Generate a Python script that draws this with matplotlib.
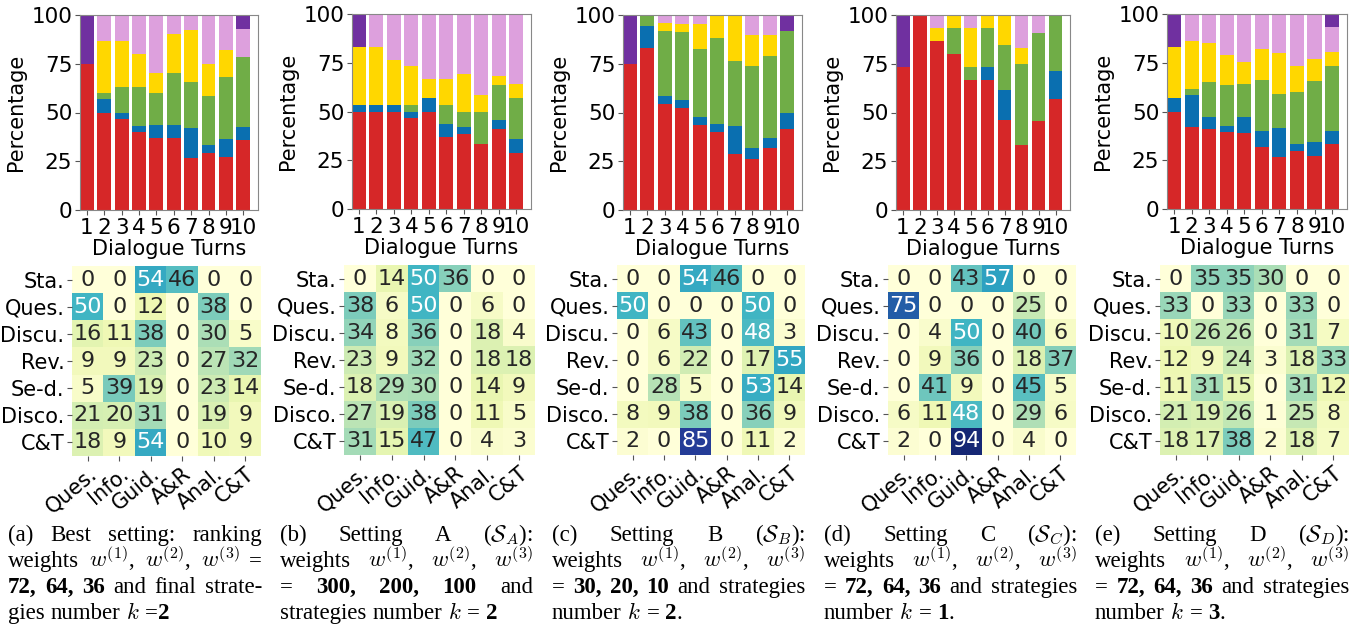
import matplotlib
matplotlib.use("Agg")
import matplotlib.pyplot as plt
import numpy as np

plt.rcParams['mathtext.fontset'] = 'cm'

turns = [1, 2, 3, 4, 5, 6, 7, 8, 9, 10]
seg_colors = ['#d62728', '#0a6fb0', '#70ad47', '#ffd700', '#dda0dd', '#7030a0']

# stacked shares per turn, bottom to top: red, blue, green, yellow, pink, purple
bars_a = [
    [75, 50, 46.7, 40, 36.7, 36.7, 26.9, 29.2, 27.3, 35.7],
    [0, 6.7, 3.3, 3.3, 6.7, 6.7, 15.4, 4.2, 9.1, 7.1],
    [0, 3.3, 13.3, 20, 16.7, 26.7, 23.1, 25, 31.8, 35.7],
    [0, 26.7, 23.3, 16.7, 10, 20, 26.9, 16.7, 13.6, 0],
    [0, 13.3, 13.3, 20, 30, 10, 7.7, 25, 18.2, 14.3],
    [25, 0, 0, 0, 0, 0, 0, 0, 0, 7.1],
]
bars_b = [
    [50, 50, 50, 46.7, 50, 36.7, 38.5, 33.3, 40.9, 28.6],
    [3.3, 3.3, 3.3, 3.3, 6.7, 6.7, 3.8, 0, 4.5, 7.1],
    [0, 0, 0, 3.3, 0, 10, 7.7, 16.7, 18.2, 21.4],
    [30, 30, 23.3, 20, 10, 13.3, 19.2, 8.3, 4.5, 7.1],
    [0, 16.7, 23.3, 26.7, 33.3, 33.3, 30.8, 41.7, 31.8, 35.7],
    [16.7, 0, 0, 0, 0, 0, 0, 0, 0, 0],
]
bars_c = [
    [75, 83.3, 54.2, 52.2, 43.5, 40, 28.6, 26.3, 31.6, 41.7],
    [0, 11.1, 4.2, 4.3, 4.3, 4, 14.3, 5.3, 5.3, 8.3],
    [0, 5.6, 33.3, 34.8, 34.8, 44, 33.3, 42.1, 42.1, 41.7],
    [0, 0, 4.2, 4.3, 13, 12, 23.8, 15.8, 10.5, 0],
    [0, 0, 4.2, 4.3, 4.3, 0, 0, 10.5, 10.5, 0],
    [25, 0, 0, 0, 0, 0, 0, 0, 0, 8.3],
]
bars_d = [
    [73.3, 100, 86.7, 80, 66.7, 66.7, 46.2, 33.3, 45.5, 57.1],
    [0, 0, 0, 0, 0, 6.7, 15.4, 0, 0, 14.3],
    [0, 0, 0, 13.3, 6.7, 20, 23.1, 41.7, 45.5, 28.6],
    [0, 0, 6.7, 6.7, 20, 6.7, 15.4, 8.3, 0, 0],
    [0, 0, 6.7, 0, 6.7, 0, 0, 16.7, 9.1, 0],
    [26.7, 0, 0, 0, 0, 0, 0, 0, 0, 0],
]
bars_e = [
    [50, 42, 41.1, 39.4, 38.9, 31.7, 26.6, 30, 27, 33.4],
    [6.7, 16.5, 6.3, 3.3, 8.5, 8.1, 14.9, 3.4, 7.6, 6.7],
    [0, 2.9, 17.6, 21, 16.6, 26.1, 17.4, 26.8, 31.1, 33.4],
    [26.6, 24.9, 20.3, 15.3, 11.3, 16, 21, 13.3, 11.4, 6.9],
    [0, 13.7, 14.7, 21, 24.7, 18.1, 20.1, 26.5, 22.9, 12.8],
    [16.7, 0, 0, 0, 0, 0, 0, 0, 0, 6.8],
]

row_labels = ['Sta.', 'Ques.', 'Discu.', 'Rev.', 'Se-d.', 'Disco.', 'C&T']
col_labels = ['Ques.', 'Info.', 'Guid.', 'A&R', 'Anal.', 'C&T']

heat_a = [[0, 0, 54, 46, 0, 0], [50, 0, 12, 0, 38, 0], [16, 11, 38, 0, 30, 5],
          [9, 9, 23, 0, 27, 32], [5, 39, 19, 0, 23, 14], [21, 20, 31, 0, 19, 9],
          [18, 9, 54, 0, 10, 9]]
heat_b = [[0, 14, 50, 36, 0, 0], [38, 6, 50, 0, 6, 0], [34, 8, 36, 0, 18, 4],
          [23, 9, 32, 0, 18, 18], [18, 29, 30, 0, 14, 9], [27, 19, 38, 0, 11, 5],
          [31, 15, 47, 0, 4, 3]]
heat_c = [[0, 0, 54, 46, 0, 0], [50, 0, 0, 0, 50, 0], [0, 6, 43, 0, 48, 3],
          [0, 6, 22, 0, 17, 55], [0, 28, 5, 0, 53, 14], [8, 9, 38, 0, 36, 9],
          [2, 0, 85, 0, 11, 2]]
heat_d = [[0, 0, 43, 57, 0, 0], [75, 0, 0, 0, 25, 0], [0, 4, 50, 0, 40, 6],
          [0, 9, 36, 0, 18, 37], [0, 41, 9, 0, 45, 5], [6, 11, 48, 0, 29, 6],
          [2, 0, 94, 0, 4, 0]]
heat_e = [[0, 35, 35, 30, 0, 0], [33, 0, 33, 0, 33, 0], [10, 26, 26, 0, 31, 7],
          [12, 9, 24, 3, 18, 33], [11, 31, 15, 0, 31, 12], [21, 19, 26, 1, 25, 8],
          [18, 17, 38, 2, 18, 7]]

# caption lines: (word, style) with style 0 normal, 1 bold, 2 bold glued to previous word
captions = [
    [[('(a)', 0), ('Best', 0), ('setting:', 0), ('ranking', 0)],
     [('weights', 0), ('$w^{(1)}$,', 0), ('$w^{(2)}$,', 0), ('$w^{(3)}$', 0), ('=', 0)],
     [('72,', 1), ('64,', 1), ('36', 1), ('and', 0), ('final', 0), ('strate-', 0)],
     [('gies', 0), ('number', 0), ('$k$', 0), ('=', 0), ('2', 2)]],
    [[('(b)', 0), ('Setting', 0), ('A', 0), (r'($\mathcal{S}_A$):', 0)],
     [('weights', 0), ('$w^{(1)}$,', 0), ('$w^{(2)}$,', 0), ('$w^{(3)}$', 0)],
     [('=', 0), ('300,', 1), ('200,', 1), ('100', 1), ('and', 0)],
     [('strategies', 0), ('number', 0), ('$k$', 0), ('=', 0), ('2', 1)]],
    [[('(c)', 0), ('Setting', 0), ('B', 0), (r'($\mathcal{S}_B$):', 0)],
     [('weights', 0), ('$w^{(1)}$,', 0), ('$w^{(2)}$,', 0), ('$w^{(3)}$', 0)],
     [('=', 0), ('30,', 1), ('20,', 1), ('10', 1), ('and', 0), ('strategies', 0)],
     [('number', 0), ('$k$', 0), ('=', 0), ('2', 1), ('.', 3)]],
    [[('(d)', 0), ('Setting', 0), ('C', 0), (r'($\mathcal{S}_C$):', 0)],
     [('weights', 0), ('$w^{(1)}$,', 0), ('$w^{(2)}$,', 0), ('$w^{(3)}$', 0)],
     [('=', 0), ('72,', 1), ('64,', 1), ('36', 1), ('and', 0), ('strategies', 0)],
     [('number', 0), ('$k$', 0), ('=', 0), ('1', 1), ('.', 3)]],
    [[('(e)', 0), ('Setting', 0), ('D', 0), (r'($\mathcal{S}_D$):', 0)],
     [('weights', 0), ('$w^{(1)}$,', 0), ('$w^{(2)}$,', 0), ('$w^{(3)}$', 0)],
     [('=', 0), ('72,', 1), ('64,', 1), ('36', 1), ('and', 0), ('strategies', 0)],
     [('number', 0), ('$k$', 0), ('=', 0), ('3', 1), ('.', 3)]],
]

W, H = 1366, 635
fig = plt.figure(figsize=(W / 100, H / 100), dpi=100)

FS_LAB = 15
FS_TICK = 15.5
FS_HTICK = 15
FS_ANN = 16
FS_CAP = 16.5

def px_axes(l, t, r, b):
    return fig.add_axes([l / W, 1 - b / H, (r - l) / W, (b - t) / H])

bar_boxes = [(80, 15, 258, 210), (352, 14, 531, 209), (623, 15, 802, 210),
             (896, 15, 1070, 210), (1167, 14, 1347, 209)]
heat_boxes = [(72, 266, 261, 456), (344, 265, 535, 455), (617, 265, 805, 455),
              (888, 265, 1076, 455), (1160, 265, 1349, 455)]
cap_x = [(8, 262), (280, 533), (552, 805), (824, 1077), (1095, 1349)]

all_bars = [bars_a, bars_b, bars_c, bars_d, bars_e]
all_heat = [heat_a, heat_b, heat_c, heat_d, heat_e]

for box, bars in zip(bar_boxes, all_bars):
    ax = px_axes(*box)
    bottom = np.zeros(len(turns))
    for vals, c in zip(bars, seg_colors):
        vals = np.array(vals, dtype=float)
        ax.bar(turns, vals, bottom=bottom, width=0.8, color=c)
        bottom += vals
    ax.set_xlim(0.6, 10.85)
    ax.set_ylim(0, 100)
    ax.set_yticks([0, 25, 50, 75, 100])
    ax.set_xticks(turns)
    ax.tick_params(labelsize=FS_TICK, length=3.5, color='#555555', pad=2)
    ax.set_ylabel('Percentage', fontsize=FS_LAB)
    ax.set_xlabel('Dialogue Turns', fontsize=FS_LAB, labelpad=1)
    for s in ax.spines.values():
        s.set_color('#888888')

cmap = plt.get_cmap('YlGnBu')
for box, heat in zip(heat_boxes, all_heat):
    ax = px_axes(*box)
    data = np.array(heat)
    ax.imshow(data, cmap=cmap, vmin=0, vmax=100, aspect='auto')
    for i in range(data.shape[0]):
        for j in range(data.shape[1]):
            r, g, b, _ = cmap(data[i, j] / 100)
            lin = [(v / 12.92) if v <= 0.03928 else ((v + 0.055) / 1.055) ** 2.4 for v in (r, g, b)]
            lum = 0.2126 * lin[0] + 0.7152 * lin[1] + 0.0722 * lin[2]
            ax.text(j, i, str(data[i, j]), ha='center', va='center', fontsize=FS_ANN,
                    color='#262626' if lum > 0.408 else 'white')
    ax.set_xticks(range(len(col_labels)))
    ax.set_xticklabels(col_labels, rotation=40, ha='right', rotation_mode='anchor')
    ax.set_yticks(range(len(row_labels)))
    ax.set_yticklabels(row_labels)
    ax.tick_params(labelsize=FS_HTICK, length=3.5, color='#555555', pad=2)
    for s in ax.spines.values():
        s.set_visible(False)

# captions, justified like the paper's columns
renderer = fig.canvas.get_renderer()
baselines = [541, 567, 593, 619]
space = FS_CAP * 0.25 * 100 / 72
for (x0, x1), lines in zip(cap_x, captions):
    for k, (words, yb) in enumerate(zip(lines, baselines)):
        texts, glue = [], []
        for wd, style in words:
            t = fig.text(0, 1 - yb / H, wd, fontsize=FS_CAP, family='Liberation Serif',
                         fontweight='bold' if style in (1, 2) else 'normal', va='baseline')
            texts.append(t)
            glue.append(style >= 2)
        widths = [t.get_window_extent(renderer).width for t in texts]
        n_gaps = sum(1 for g in glue[1:] if not g)
        if k < len(lines) - 1 and n_gaps > 0:
            gap = max(((x1 - x0) - sum(widths)) / n_gaps, 2)
        else:
            gap = space
        x = x0
        for idx, (t, wdt) in enumerate(zip(texts, widths)):
            if idx > 0:
                x += 0 if glue[idx] else gap
            t.set_x(x / W)
            x += wdt

fig.savefig('out.png', dpi=100)
